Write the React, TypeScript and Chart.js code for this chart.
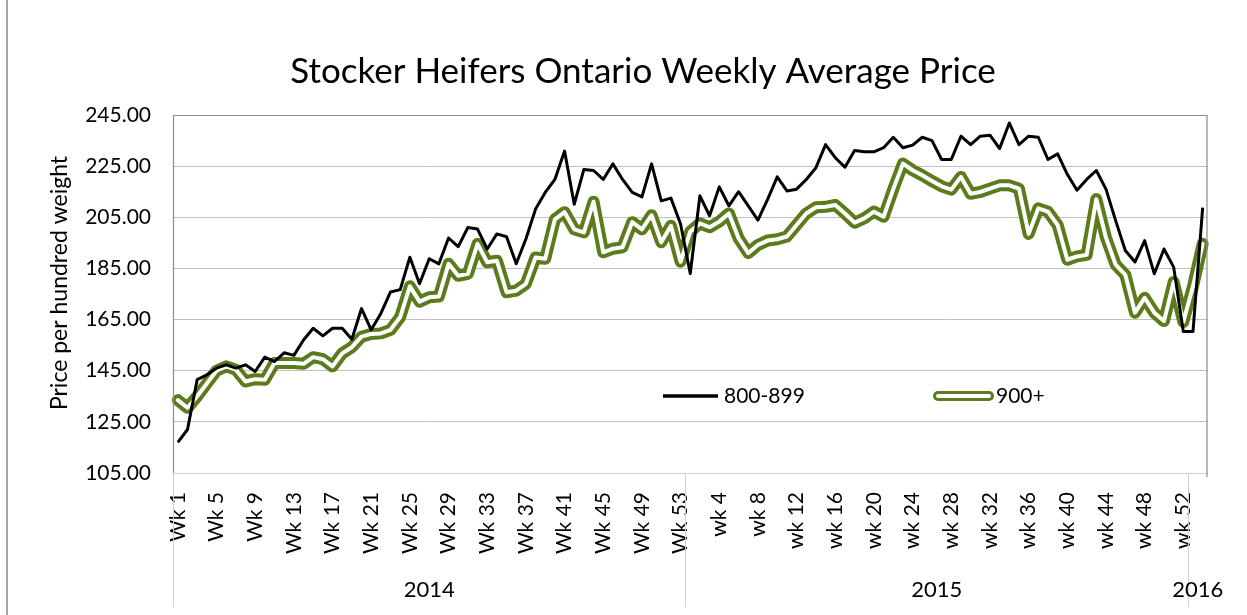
import React, { useEffect, useRef } from 'react';
import { Chart, registerables } from 'chart.js';

Chart.register(...registerables);

const TITLE = 'Stocker Heifers Ontario Weekly Average Price';
const Y_TITLE = 'Price per hundred weight';
const SERIES_A = '800-899';
const SERIES_B = '900+';

const years = ['2014', '2015', '2016'];
const weeks2014 = Array.from({ length: 53 }, (_, i) => `Wk ${i + 1}`);
const weeks2015 = Array.from({ length: 52 }, (_, i) => `wk ${i + 1}`);
const weeks2016 = ['wk 1', 'wk 2'];
const yearWeeks = [weeks2014, weeks2015, weeks2016];
const weekLabels = [...weeks2014, ...weeks2015, ...weeks2016];

const yMin = 105;
const yMax = 245;
const yStep = 20;

const price800to899 = [
  117, 122, 141.5, 143.4, 146, 147.3, 146, 147.3, 144.7, 150.3,
  148.6, 152, 151, 157, 161.6, 158.6, 161.6, 161.6, 157.3, 169.3,
  161, 167.4, 175.8, 176.7, 189.4, 179, 188.8, 186.8, 196.9, 193.5,
  201, 200.4, 192.6, 198.5, 197.4, 186.8, 196.5, 208.2, 214.7, 219.8,
  230.9, 210.1, 223.7, 223.3, 219.8, 225.9, 219.8, 214.7, 213, 225.9,
  211.4, 212.5, 202.4, 183, 213.4, 205.6, 216.9, 209.5, 215, 209.5,
  203.9, 212, 220.8, 215.3, 216, 219.8, 224.4, 233.4, 228.3, 224.6,
  231.1, 230.6, 230.6, 232.2, 236.3, 232.2, 233.2, 236.3, 235, 227.6,
  227.6, 236.7, 233.4, 236.7, 237.1, 231.9, 241.9, 233.4, 236.7, 236.3,
  227.6, 229.8, 221.8, 215.6, 219.8, 223.3, 216, 203.7, 192, 187.5,
  195.9, 182.9, 192.6, 185.5, 160.3, 160.3, 208.8,
];

const price900plus = [
  133.5, 130.5, 135, 140, 145, 146.7, 145.4, 140.8, 141.7, 141.5,
  148, 148, 148, 147.7, 150.3, 149.5, 146.7, 151.8, 154.2, 158.3,
  159.4, 159.6, 161, 166, 178, 172, 173.7, 174, 186.8, 182.1,
  182.9, 194.6, 187.4, 188, 175.7, 176.3, 179, 189.3, 188.8, 204.2,
  207, 200.3, 199.1, 211.1, 191.3, 192.7, 193.3, 203.1, 200.3, 205.8,
  195.2, 201.7, 187.6, 199.4, 202.6, 201.1, 203.3, 206.5, 196.8, 191,
  194.2, 195.9, 196.4, 197.5, 202, 206.5, 208.9, 209.1, 209.8, 206.5,
  202.9, 204.6, 207.2, 205.2, 216, 226, 223.4, 221.4, 219.2, 217.1,
  215.8, 220.8, 214.2, 214.9, 216.2, 217.5, 217.5, 216.2, 198.5, 208.5,
  207.2, 202, 188.4, 189.7, 190.3, 212.1, 197, 186.5, 182.5, 167.7,
  173.5, 167.7, 164.4, 179.7, 164.1, 178, 194.6,
];

const GREEN = '#5b7b1d';
const FONT = 'Lato, "Open Sans", sans-serif';

const decorPlugin = {
  id: 'decor',
  afterDraw(chart: any) {
    const { ctx, chartArea: a } = chart;
    const x = chart.scales.x;
    ctx.save();

    // outer chart frame (left edge)
    ctx.strokeStyle = '#a6a6a6';
    ctx.lineWidth = 2;
    ctx.beginPath();
    ctx.moveTo(7, 0);
    ctx.lineTo(7, chart.height);
    ctx.stroke();

    // plot border
    ctx.strokeStyle = '#8c8c8c';
    ctx.lineWidth = 1.2;
    ctx.beginPath();
    ctx.moveTo(a.left + 0.5, a.bottom);
    ctx.lineTo(a.left + 0.5, a.top + 0.5);
    ctx.lineTo(a.right - 0.5, a.top + 0.5);
    ctx.lineTo(a.right - 0.5, a.bottom + 4);
    ctx.stroke();

    // year groups
    let start = 0;
    ctx.fillStyle = '#000';
    ctx.font = `22px ${FONT}`;
    ctx.textAlign = 'center';
    ctx.textBaseline = 'middle';
    yearWeeks.forEach((wks, k) => {
      const bx = x.getPixelForValue(start - 0.5);
      ctx.strokeStyle = '#d0d0d0';
      ctx.lineWidth = 1;
      ctx.beginPath();
      ctx.moveTo(Math.round(bx) + 0.5, a.bottom);
      ctx.lineTo(Math.round(bx) + 0.5, 607);
      ctx.stroke();
      const cx = x.getPixelForValue(start + wks.length / 2 - 0.5);
      ctx.fillText(years[k], cx, 590);
      start += wks.length;
    });

    // title
    ctx.font = `35px ${FONT}`;
    ctx.fillText(TITLE, 643, 72);

    // y axis title
    ctx.save();
    ctx.translate(60, 283);
    ctx.rotate(-Math.PI / 2);
    ctx.font = `23px ${FONT}`;
    ctx.fillText(Y_TITLE, 0, 0);
    ctx.restore();

    // legend
    const ly = 396;
    ctx.lineCap = 'butt';
    ctx.strokeStyle = '#000';
    ctx.lineWidth = 3.5;
    ctx.beginPath();
    ctx.moveTo(663, ly);
    ctx.lineTo(718, ly);
    ctx.stroke();
    ctx.font = `21px ${FONT}`;
    ctx.textAlign = 'left';
    ctx.fillText(SERIES_A, 724, ly);

    ctx.lineCap = 'round';
    ctx.strokeStyle = GREEN;
    ctx.lineWidth = 10;
    ctx.beginPath();
    ctx.moveTo(938, ly);
    ctx.lineTo(989, ly);
    ctx.stroke();
    ctx.strokeStyle = '#fff';
    ctx.lineWidth = 4;
    ctx.beginPath();
    ctx.moveTo(938, ly);
    ctx.lineTo(989, ly);
    ctx.stroke();
    ctx.fillText(SERIES_B, 996, ly);

    ctx.restore();
  },
};

export default function App() {
  const canvasRef = useRef<HTMLCanvasElement | null>(null);

  useEffect(() => {
    if (!canvasRef.current) return;
    const chart = new Chart(canvasRef.current, {
      type: 'line',
      data: {
        labels: weekLabels,
        datasets: [
          {
            label: SERIES_A,
            data: price800to899,
            borderColor: '#000',
            borderWidth: 3,
            pointRadius: 0,
            tension: 0,
            borderJoinStyle: 'round',
          },
          {
            label: SERIES_B + ' core',
            data: price900plus,
            borderColor: '#ffffff',
            borderWidth: 4,
            pointRadius: 0,
            tension: 0,
            borderJoinStyle: 'round',
            borderCapStyle: 'round',
          },
          {
            label: SERIES_B,
            data: price900plus,
            borderColor: GREEN,
            borderWidth: 12,
            pointRadius: 0,
            tension: 0,
            borderJoinStyle: 'round',
            borderCapStyle: 'round',
          },
        ],
      },
      options: {
        animation: false,
        responsive: true,
        maintainAspectRatio: false,
        layout: { padding: { left: 0, top: 115, right: 29, bottom: 0 } },
        plugins: {
          legend: { display: false },
          title: { display: false },
          tooltip: { enabled: false },
        },
        scales: {
          x: {
            type: 'category',
            offset: true,
            grid: { display: false, drawTicks: false },
            border: { display: true, color: '#d0d0d0', width: 1 },
            ticks: {
              autoSkip: false,
              maxRotation: 90,
              minRotation: 90,
              padding: 19,
              color: '#000',
              font: { family: FONT, size: 21 },
              callback: function (this: any, value: any, index: number) {
                return index % 4 === 0 ? this.getLabelForValue(value) : '';
              },
            },
            afterFit: (s: any) => {
              s.height = 142;
            },
          },
          y: {
            min: yMin,
            max: yMax,
            grid: { color: '#c0c0c0', lineWidth: 1, drawTicks: false },
            border: { display: false },
            ticks: {
              stepSize: yStep,
              padding: 22,
              color: '#000',
              font: { family: FONT, size: 21 },
              callback: (v: any) => Number(v).toFixed(2),
            },
            afterFit: (s: any) => {
              s.width = 173;
            },
          },
        },
      },
      plugins: [decorPlugin],
    });
    if ((document as any).fonts && (document as any).fonts.load) {
      (document as any).fonts.load(`21px Lato`).then(() => chart.update()).catch(() => {});
    }
    return () => chart.destroy();
  }, []);

  return (
    <div style={{ position: 'fixed', left: 0, top: 0, width: 1247, height: 615, background: '#fff' }}>
      <canvas ref={canvasRef} />
    </div>
  );
}
